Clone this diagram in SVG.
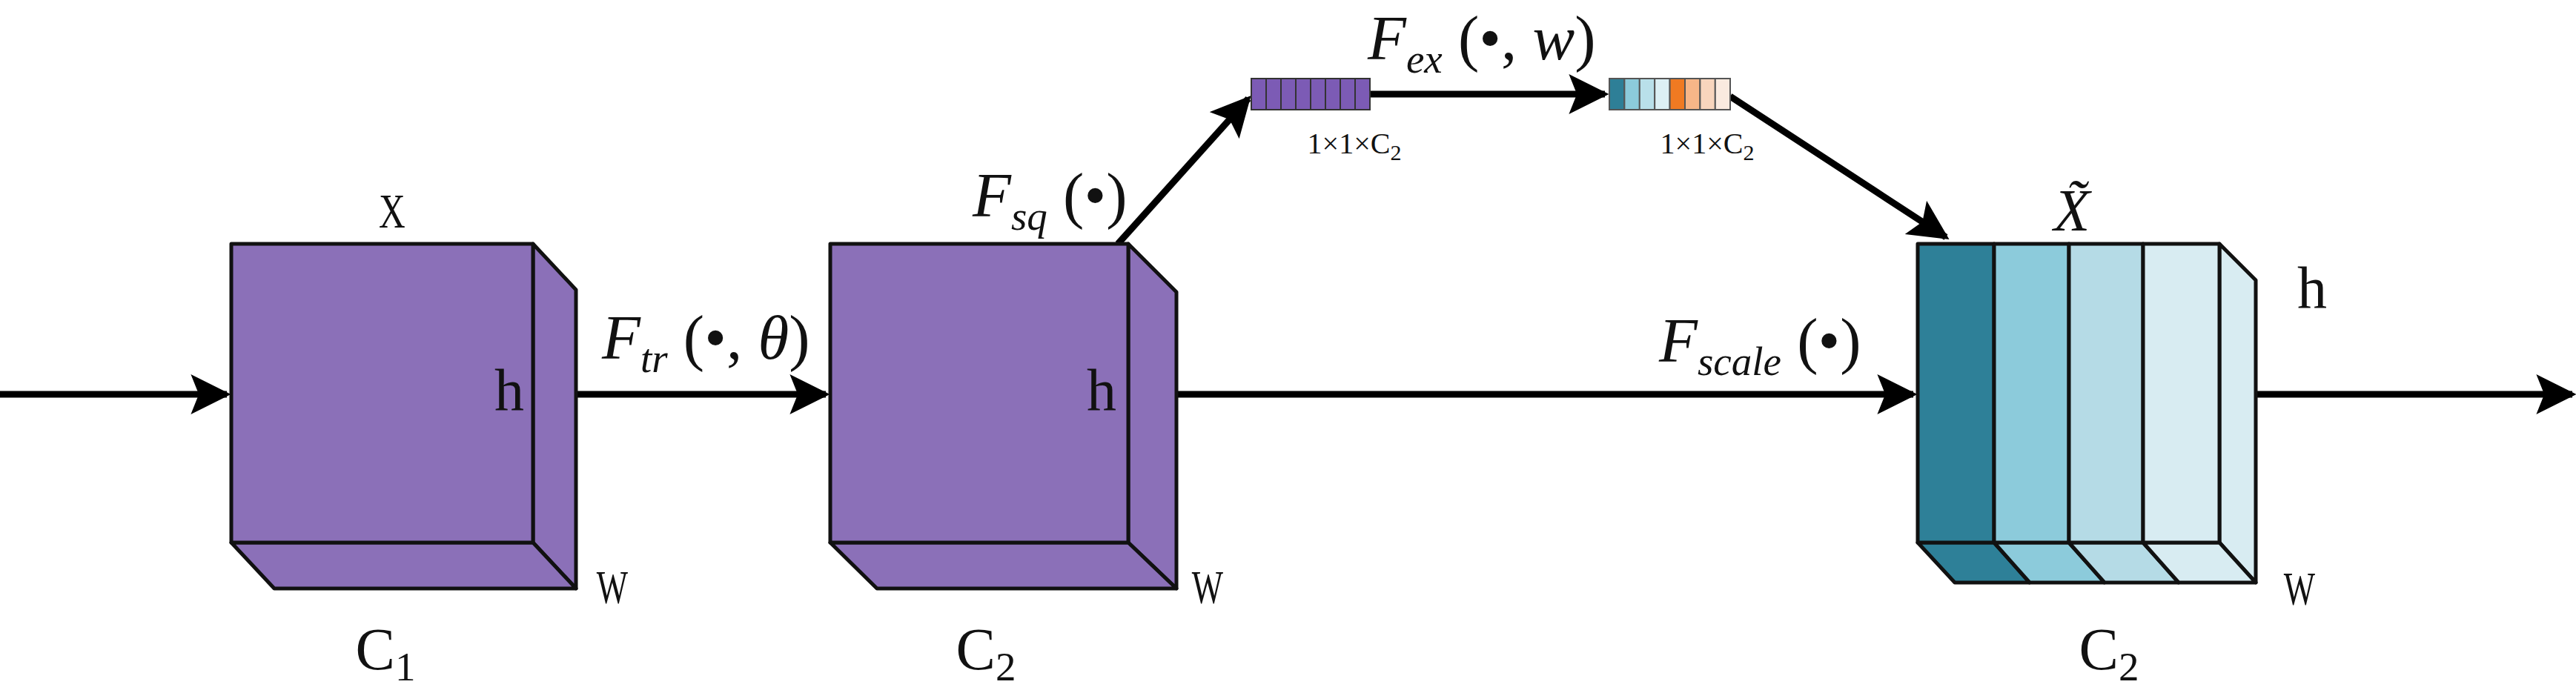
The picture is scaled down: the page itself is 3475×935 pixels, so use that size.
<svg xmlns="http://www.w3.org/2000/svg" width="3475" height="935" viewBox="0 0 3475 935">
<style>
.t{font-family:"Liberation Serif",serif;fill:#111}
.f{font-style:italic}
.e{stroke:#111;stroke-width:5;stroke-linejoin:round}
.p{fill:#8b70b8}
.c{stroke:#000;stroke-width:9;fill:none}
</style>
<defs>
<marker id="a" viewBox="0 0 10 10" refX="9" refY="5" markerWidth="6" markerHeight="6" markerUnits="strokeWidth" orient="auto"><path d="M0,0 L10,5 L0,10 L2,5 z" fill="#000"/></marker>
</defs>
<rect width="3475" height="935" fill="#fff"/>
<g id="connectors">
<line class="c" x1="0" y1="532" x2="306" y2="532" marker-end="url(#a)"/>
<line class="c" x1="777" y1="532" x2="1114" y2="532" marker-end="url(#a)"/>
<line class="c" x1="1587" y1="532" x2="2581" y2="532" marker-end="url(#a)"/>
<line class="c" x1="3043" y1="532" x2="3470" y2="532" marker-end="url(#a)"/>
<line class="c" x1="1508" y1="329" x2="1684" y2="133" marker-end="url(#a)"/>
<line class="c" x1="1848" y1="127" x2="2165" y2="127" marker-end="url(#a)"/>
<line class="c" x1="2334" y1="130" x2="2625" y2="320" marker-end="url(#a)"/>
</g>
<g id="box1">
<polygon class="p e" points="719,329 777,391 777,794 719,732"/>
<polygon class="p e" points="312,732 719,732 777,794 370,794"/>
<rect class="p e" x="312" y="329" width="407" height="403"/>
<text class="t" x="529" y="307" font-size="66" text-anchor="middle" transform="translate(529 0) scale(0.75 1) translate(-529 0)">X</text>
<text class="t" x="687" y="553" font-size="80" text-anchor="middle">h</text>
<text class="t" x="826" y="814" font-size="64" text-anchor="middle" transform="translate(826 0) scale(0.7 1) translate(-826 0)">W</text>
<text class="t" x="520" y="903" font-size="80" text-anchor="middle">C<tspan font-size="55" dy="15">1</tspan></text>
</g>
<g id="box2">
<polygon class="p e" points="1522,329 1587,394 1587,794 1522,732"/>
<polygon class="p e" points="1120,732 1522,732 1587,794 1183,794"/>
<rect class="p e" x="1120" y="329" width="402" height="403"/>
<text class="t" x="1486" y="553" font-size="80" text-anchor="middle">h</text>
<text class="t" x="1629" y="814" font-size="64" text-anchor="middle" transform="translate(1629 0) scale(0.7 1) translate(-1629 0)">W</text>
<text class="t" x="1330" y="903" font-size="80" text-anchor="middle">C<tspan font-size="55" dy="15">2</tspan></text>
</g>
<g id="label-ftr"><text class="t" x="812" y="484" font-size="85"><tspan class="f">F</tspan><tspan class="f" font-size="55" dy="18">tr</tspan><tspan dy="-18"> (•, </tspan><tspan class="f">θ</tspan>)</text></g>
<g id="label-fsq"><text class="t" x="1312" y="292" font-size="85"><tspan class="f">F</tspan><tspan class="f" font-size="55" dy="18">sq</tspan><tspan dy="-18"> (•)</tspan></text></g>
<g id="label-fex"><text class="t" x="1845" y="80" font-size="85"><tspan class="f">F</tspan><tspan class="f" font-size="55" dy="18">ex</tspan><tspan dy="-18"> (•, </tspan><tspan class="f">w</tspan>)</text></g>
<g id="label-fscale"><text class="t" x="2238" y="488" font-size="85"><tspan class="f">F</tspan><tspan class="f" font-size="55" dy="18">scale</tspan><tspan dy="-18"> (•)</tspan></text></g>
<g id="vec1" stroke="#333" stroke-width="2">
<rect x="1688" y="106" width="160" height="42" fill="#7c5bb5"/>
<path d="M1708,106V148M1728,106V148M1748,106V148M1768,106V148M1788,106V148M1808,106V148M1828,106V148"/>
<text class="t" x="1827" y="207" font-size="40" text-anchor="middle" stroke="none">1×1×C<tspan font-size="30" dy="9">2</tspan></text>
</g>
<g id="vec2" stroke="#555" stroke-width="2">
<rect x="2171" y="106" width="20.4" height="42" fill="#2e7f97"/>
<rect x="2191.4" y="106" width="20.4" height="42" fill="#8ccbdb"/>
<rect x="2211.8" y="106" width="20.4" height="42" fill="#b9e0ea"/>
<rect x="2232.2" y="106" width="20.4" height="42" fill="#dcf0f5"/>
<rect x="2252.6" y="106" width="20.4" height="42" fill="#f07a22"/>
<rect x="2273" y="106" width="20.4" height="42" fill="#f7b688"/>
<rect x="2293.4" y="106" width="20.4" height="42" fill="#f8d5bd"/>
<rect x="2313.8" y="106" width="20.2" height="42" fill="#faeadf"/>
<text class="t" x="2303" y="207" font-size="40" text-anchor="middle" stroke="none">1×1×C<tspan font-size="30" dy="9">2</tspan></text>
</g>
<g id="box3">
<polygon class="e" fill="#d8ecf2" points="2994,329 3043,378 3043,786 2994,732"/>
<polygon class="e" fill="#2e8098" points="2587,732 2690,732 2738,786 2637,786"/>
<polygon class="e" fill="#8ccbdb" points="2690,732 2791,732 2839,786 2738,786"/>
<polygon class="e" fill="#b5dbe6" points="2791,732 2891,732 2939,786 2839,786"/>
<polygon class="e" fill="#d8ecf2" points="2891,732 2994,732 3043,786 2939,786"/>
<rect class="e" fill="#2e8098" x="2587" y="329" width="103" height="403"/>
<rect class="e" fill="#8ccbdb" x="2690" y="329" width="101" height="403"/>
<rect class="e" fill="#b5dbe6" x="2791" y="329" width="100" height="403"/>
<rect class="e" fill="#d8ecf2" x="2891" y="329" width="103" height="403"/>
<text class="t f" x="2795" y="311" font-size="80" text-anchor="middle">X&#771;</text>
<text class="t" x="3119" y="415" font-size="80" text-anchor="middle">h</text>
<text class="t" x="3102" y="816" font-size="64" text-anchor="middle" transform="translate(3102 0) scale(0.7 1) translate(-3102 0)">W</text>
<text class="t" x="2845" y="903" font-size="80" text-anchor="middle">C<tspan font-size="55" dy="15">2</tspan></text>
</g>
</svg>
